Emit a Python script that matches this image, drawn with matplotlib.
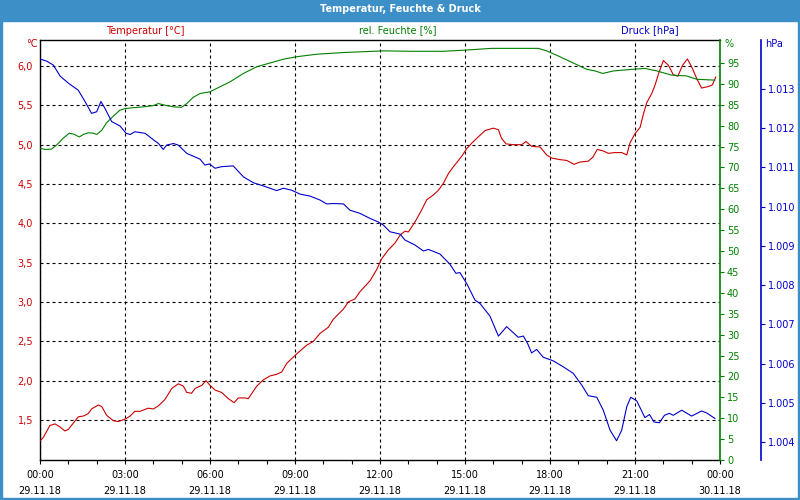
import numpy as np
import matplotlib
matplotlib.use('Agg')
import matplotlib.pyplot as plt
from matplotlib.patches import Rectangle
from matplotlib.ticker import FixedLocator, MultipleLocator, FuncFormatter

# --- data (hours since 29.11.18 00:00) ---
temp_t = [0.02, 0.12, 0.35, 0.53, 0.71, 0.88, 1.0, 1.35, 1.53, 1.70, 1.82, 2.06, 2.18, 2.35, 2.59,
          2.76, 3.0, 3.18, 3.35, 3.53, 3.82, 4.0, 4.18, 4.41, 4.65, 4.88, 5.06, 5.18, 5.35, 5.47,
          5.71, 5.86, 6.0, 6.18, 6.41, 6.65, 6.85, 7.0, 7.24, 7.35, 7.65, 7.88, 8.12, 8.35, 8.53,
          8.71, 8.94, 9.06, 9.41, 9.65, 9.88, 10.18, 10.35, 10.71, 10.88, 11.12, 11.29, 11.65, 11.88,
          12.06, 12.29, 12.53, 12.71, 12.88, 13.0, 13.24, 13.47, 13.65, 13.88, 14.06, 14.24, 14.41,
          14.59, 14.88, 15.06, 15.24, 15.47, 15.71, 16.0, 16.18, 16.29, 16.45, 16.71, 17.0, 17.15,
          17.35, 17.65, 17.88, 18.06, 18.35, 18.59, 18.85, 19.06, 19.35, 19.51, 19.67, 19.88, 20.06,
          20.29, 20.53, 20.71, 20.82, 21.0, 21.18, 21.29, 21.41, 21.59, 21.71, 21.82, 22.0, 22.18,
          22.35, 22.51, 22.68, 22.85, 23.0, 23.18, 23.35, 23.59, 23.73, 23.85]
temp_v = [1.24, 1.28, 1.43, 1.45, 1.41, 1.36, 1.38, 1.54, 1.55, 1.58, 1.64, 1.69, 1.67, 1.56, 1.49,
          1.48, 1.51, 1.55, 1.61, 1.61, 1.65, 1.64, 1.68, 1.76, 1.90, 1.96, 1.93, 1.85, 1.84, 1.90,
          1.94, 2.00, 1.94, 1.88, 1.85, 1.77, 1.72, 1.78, 1.78, 1.77, 1.93, 2.01, 2.06, 2.08, 2.11,
          2.22, 2.30, 2.34, 2.45, 2.50, 2.60, 2.68, 2.78, 2.91, 3.00, 3.04, 3.13, 3.27, 3.41,
          3.55, 3.66, 3.75, 3.85, 3.90, 3.89, 4.02, 4.17, 4.30, 4.36, 4.42, 4.51, 4.63,
          4.72, 4.85, 4.95, 5.02, 5.10, 5.18, 5.21, 5.19, 5.08, 5.01, 5.00, 5.00, 5.04,
          4.98, 4.97, 4.87, 4.83, 4.81, 4.80, 4.75, 4.78, 4.79, 4.84, 4.94, 4.92, 4.89,
          4.90, 4.90, 4.87, 5.02, 5.14, 5.22, 5.38, 5.53, 5.65, 5.76, 5.89, 6.07, 6.01,
          5.89, 5.87, 6.01, 6.09, 5.99, 5.84, 5.72, 5.74, 5.76, 5.86]

hum_t = [0.02, 0.18, 0.41, 0.59, 0.82, 1.03, 1.18, 1.39, 1.53, 1.70, 1.88, 2.0, 2.18, 2.35, 2.59,
         2.82, 3.0, 3.29, 3.65, 4.0, 4.18, 4.41, 4.71, 5.0, 5.18, 5.41, 5.65, 6.0, 6.29, 6.71,
         7.18, 7.65, 8.12, 8.59, 9.06, 9.77, 10.71, 11.41, 12.12, 13.06, 14.24, 15.06, 15.94,
         17.59, 17.88, 18.35, 18.82, 19.29, 19.59, 19.86, 20.24, 20.94, 21.35, 21.77, 22.29,
         22.82, 23.18, 23.82]
hum_v = [74.6, 74.3, 74.4, 75.4, 77.0, 78.2, 78.0, 77.3, 77.9, 78.3, 78.2, 77.9, 78.9, 80.7, 82.3,
         83.7, 84.1, 84.3, 84.5, 84.8, 85.3, 84.9, 84.5, 84.4, 85.3, 86.8, 87.7, 88.1, 89.1, 90.5,
         92.5, 94.1, 95.0, 95.9, 96.5, 97.1, 97.5, 97.7, 97.9, 97.8, 97.8, 98.1, 98.5,
         98.5, 97.9, 96.5, 95.0, 93.5, 93.1, 92.5, 93.1, 93.5, 93.7, 93.1, 92.1,
         91.9, 91.1, 90.9]

pres_t = [0.02, 0.24, 0.47, 0.71, 1.0, 1.35, 1.59, 1.82, 2.0, 2.15, 2.29, 2.53, 2.82, 3.04, 3.18,
          3.35, 3.71, 3.94, 4.18, 4.35, 4.47, 4.71, 4.88, 5.18, 5.65, 5.82, 5.98, 6.18, 6.41, 6.82,
          7.18, 7.53, 7.88, 8.35, 8.59, 8.88, 9.18, 9.53, 9.88, 10.12, 10.35, 10.71, 10.94, 11.29,
          11.65, 11.94, 12.12, 12.35, 12.71, 12.88, 13.24, 13.53, 13.71, 14.12, 14.47, 14.68, 14.82,
          15.06, 15.35, 15.53, 15.88, 16.18, 16.47, 16.88, 17.06, 17.21, 17.35, 17.53, 17.76, 18.11,
          18.46, 18.82, 19.12, 19.35, 19.65, 19.88, 20.12, 20.35, 20.53, 20.71, 20.85, 21.06, 21.35,
          21.51, 21.67, 21.86, 22.04, 22.21, 22.35, 22.65, 23.0, 23.35, 23.53, 23.82]
pres_v = [1013.76, 1013.71, 1013.61, 1013.33, 1013.15, 1012.97, 1012.68, 1012.38, 1012.42, 1012.68,
          1012.51, 1012.17, 1012.06, 1011.87, 1011.84, 1011.91, 1011.87, 1011.74, 1011.61, 1011.46,
          1011.57, 1011.61, 1011.57, 1011.36, 1011.21, 1011.06, 1011.09, 1010.98, 1011.02, 1011.04,
          1010.76, 1010.61, 1010.53, 1010.41, 1010.47, 1010.42, 1010.32, 1010.27, 1010.17, 1010.07,
          1010.08, 1010.07, 1009.91, 1009.83, 1009.70, 1009.61, 1009.53, 1009.36, 1009.30, 1009.15,
          1009.02, 1008.87, 1008.91, 1008.79, 1008.53, 1008.30, 1008.32, 1008.04, 1007.62, 1007.53,
          1007.21, 1006.70, 1006.94, 1006.67, 1006.70, 1006.51, 1006.27, 1006.36, 1006.16, 1006.07,
          1005.92, 1005.75, 1005.45, 1005.18, 1005.14, 1004.81, 1004.30, 1004.03, 1004.30, 1004.90,
          1005.14, 1005.05, 1004.62, 1004.70, 1004.51, 1004.49, 1004.68, 1004.73, 1004.68, 1004.81,
          1004.66, 1004.79, 1004.74, 1004.60]

x_ticks = [0, 3, 6, 9, 12, 15, 18, 21, 24]
x_labels = ['00:00\n29.11.18', '03:00\n29.11.18', '06:00\n29.11.18', '09:00\n29.11.18',
            '12:00\n29.11.18', '15:00\n29.11.18', '18:00\n29.11.18', '21:00\n29.11.18',
            '00:00\n30.11.18']
temp_ticks = [1.5, 2.0, 2.5, 3.0, 3.5, 4.0, 4.5, 5.0, 5.5, 6.0]
hum_ticks = list(range(0, 100, 5))
pres_ticks = list(range(1004, 1014))

RED = '#cc0000'
GREEN = '#008000'
BLUE = '#0000cc'
BAR = '#3d8fc7'
FS = 7

fig = plt.figure(figsize=(8, 5), dpi=100)
fig.patch.set_facecolor('white')

# title bar and frame
fig.patches.append(Rectangle((0, 0.958), 1, 0.042, transform=fig.transFigure, color=BAR, zorder=0))
for r in [(0, 0), (0.9975, 0)]:
    fig.patches.append(Rectangle(r, 0.0025, 1, transform=fig.transFigure, color=BAR))
fig.patches.append(Rectangle((0, 0), 1, 0.005, transform=fig.transFigure, color=BAR))
fig.text(0.5, 0.981, 'Temperatur, Feuchte & Druck', color='white', fontsize=FS,
         fontweight='bold', ha='center', va='center')

fig.text(0.181, 0.939, 'Temperatur [°C]', color=RED, fontsize=FS, ha='center', va='center')
fig.text(0.4975, 0.939, 'rel. Feuchte [%]', color=GREEN, fontsize=FS, ha='center', va='center')
fig.text(0.8125, 0.939, 'Druck [hPa]', color=BLUE, fontsize=FS, ha='center', va='center')

ax = fig.add_axes([0.05, 0.08, 0.85, 0.84])
ax_h = ax.twinx()
ax_p = ax.twinx()

ax.plot(temp_t, temp_v, color=RED, lw=0.8, zorder=3)
ax_h.plot(hum_t, hum_v, color=GREEN, lw=0.8)
ax_p.plot(pres_t, pres_v, color=BLUE, lw=0.8)

ax.set_xlim(0, 24)
ax.set_ylim(0.991, 6.331)
ax_h.set_ylim(0, 100.5)
ax_p.set_ylim(1003.54, 1014.25)

# x axis
ax.xaxis.set_major_locator(FixedLocator(x_ticks))
ax.xaxis.set_minor_locator(MultipleLocator(1))
ax.set_xticklabels(x_labels, fontsize=FS, linespacing=1.75)
ax.tick_params(axis='x', which='both', direction='out', length=3, width=0.8, pad=4)

# temperature axis
ax.set_yticks(temp_ticks)
ax.yaxis.set_major_formatter(FuncFormatter(lambda v, p: f'{v:.1f}'.replace('.', ',')))
ax.tick_params(axis='y', length=0, pad=5, labelsize=FS, labelcolor=RED)
ax.grid(True, color='black', linestyle=(0, (2.7, 2.7)), linewidth=0.8)
ax.spines['right'].set_visible(False)
for s in ['left', 'top', 'bottom']:
    ax.spines[s].set_linewidth(1.0)

# humidity axis
ax_h.set_yticks(hum_ticks)
ax_h.tick_params(axis='y', length=3, width=0.8, color=GREEN, labelcolor=GREEN, labelsize=FS, pad=2)
ax_h.spines['right'].set_color(GREEN)
ax_h.spines['right'].set_linewidth(1.2)
for s in ['left', 'top', 'bottom']:
    ax_h.spines[s].set_visible(False)

# pressure axis
ax_p.spines['right'].set_position(('axes', 1.0603))
ax_p.spines['right'].set_color(BLUE)
ax_p.spines['right'].set_linewidth(1.2)
for s in ['left', 'top', 'bottom']:
    ax_p.spines[s].set_visible(False)
ax_p.set_yticks(pres_ticks)
ax_p.yaxis.set_major_formatter(FuncFormatter(lambda v, p: f'{int(round(v)):,}'.replace(',', '.')))
ax_p.tick_params(axis='y', length=3, width=0.8, color=BLUE, labelcolor=BLUE, labelsize=FS, pad=2)

# unit labels
fig.text(0.04, 0.912, '°C', color=RED, fontsize=FS, ha='center', va='center')
fig.text(0.906, 0.912, '%', color=GREEN, fontsize=FS, ha='left', va='center')
fig.text(0.956, 0.912, 'hPa', color=BLUE, fontsize=FS, ha='left', va='center')

fig.savefig('out.png', dpi=100)
